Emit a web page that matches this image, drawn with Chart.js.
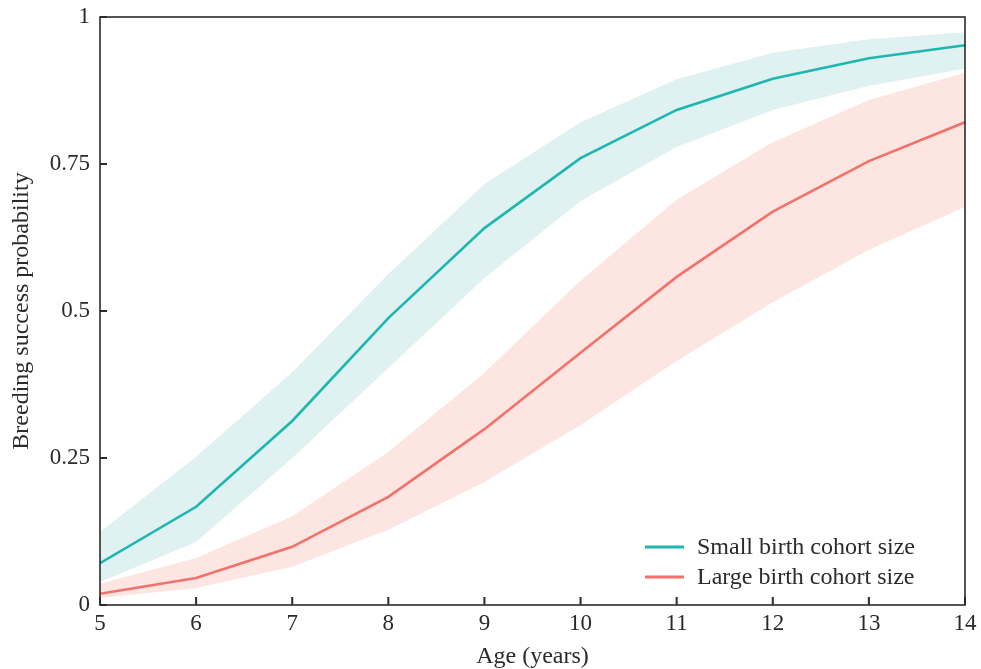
<!DOCTYPE html>
<html>
<head>
<meta charset="utf-8">
<script src="https://cdn.jsdelivr.net/npm/chart.js@4"></script>
<style>
  html, body { margin: 0; padding: 0; background: #fff; }
  #wrap { width: 981px; height: 669px; }
</style>
</head>
<body>
<div id="wrap"><canvas id="c" width="981" height="669"></canvas></div>
<script>
const ages = [5, 6, 7, 8, 9, 10, 11, 12, 13, 14];
const smallMean  = [0.071, 0.167, 0.313, 0.488, 0.641, 0.760, 0.842, 0.895, 0.930, 0.952];
const smallUpper = [0.124, 0.252, 0.396, 0.563, 0.716, 0.821, 0.894, 0.939, 0.962, 0.974];
const smallLower = [0.039, 0.107, 0.250, 0.403, 0.556, 0.687, 0.779, 0.842, 0.883, 0.912];
const largeMean  = [0.019, 0.046, 0.099, 0.184, 0.299, 0.429, 0.558, 0.669, 0.755, 0.821];
const largeUpper = [0.036, 0.080, 0.151, 0.260, 0.395, 0.552, 0.689, 0.787, 0.859, 0.905];
const largeLower = [0.012, 0.029, 0.065, 0.128, 0.209, 0.306, 0.415, 0.515, 0.604, 0.677];
const yTicks = [0, 0.25, 0.5, 0.75, 1];
const yTickLabels = ['0', '0.25', '0.5', '0.75', '1'];
const seriesLabels = ['Small birth cohort size', 'Large birth cohort size'];
const xTitle = 'Age (years)';
const yTitle = 'Breeding success probability';

const TEAL = '#1fb6af';
const RED = '#f2716a';
const TEAL_BAND = '#dff1f0';
const RED_BAND = '#fde6e2';
const FONT = "'Liberation Serif', 'Times New Roman', serif";
const INK = '#2b2b2b';

const pts = arr => arr.map((v, i) => ({ x: ages[i], y: v }));

const band = (data, color, fill) => ({
  data: pts(data), borderWidth: 0, pointRadius: 0, backgroundColor: color,
  borderColor: 'rgba(0,0,0,0)', fill: fill, tension: 0, order: 2
});

const framePlugin = {
  id: 'frame',
  afterDraw(chart) {
    const { ctx, chartArea: a, scales } = chart;
    ctx.save();
    ctx.strokeStyle = INK;
    ctx.lineWidth = 1.6;
    ctx.strokeRect(a.left, a.top, a.right - a.left, a.bottom - a.top);
    ctx.lineWidth = 2;
    ctx.beginPath();
    yTicks.forEach(v => {
      const y = scales.y.getPixelForValue(v);
      ctx.moveTo(a.left, y); ctx.lineTo(a.left + 7, y);
    });
    ages.forEach(v => {
      const x = scales.x.getPixelForValue(v);
      ctx.moveTo(x, a.bottom); ctx.lineTo(x, a.bottom - 8);
    });
    ctx.stroke();
    // legend
    const items = [
      { label: seriesLabels[0], color: TEAL, y: 547 },
      { label: seriesLabels[1], color: RED, y: 577 }
    ];
    ctx.font = '24px ' + FONT;
    ctx.textBaseline = 'middle';
    ctx.textAlign = 'left';
    items.forEach(it => {
      ctx.strokeStyle = it.color;
      ctx.lineWidth = 3;
      ctx.beginPath();
      ctx.moveTo(645, it.y); ctx.lineTo(684, it.y);
      ctx.stroke();
      ctx.fillStyle = INK;
      ctx.fillText(it.label, 697, it.y + 1);
    });
    ctx.restore();
  }
};

new Chart(document.getElementById('c'), {
  type: 'line',
  data: {
    datasets: [
      { label: seriesLabels[0], data: pts(smallMean), borderColor: TEAL, borderWidth: 2.6, pointRadius: 0, fill: false, tension: 0, order: 0 },
      { label: seriesLabels[1], data: pts(largeMean), borderColor: RED, borderWidth: 2.6, pointRadius: 0, fill: false, tension: 0, order: 0 },
      band(smallUpper, TEAL_BAND, '+1'),
      band(smallLower, TEAL_BAND, false),
      band(largeUpper, RED_BAND, '+1'),
      band(largeLower, RED_BAND, false)
    ]
  },
  options: {
    responsive: false,
    animation: false,
    devicePixelRatio: 1,
    layout: { padding: { top: 17, right: 16, left: 0, bottom: 0 } },
    plugins: { legend: { display: false }, tooltip: { enabled: false }, filler: { drawTime: 'beforeDatasetsDraw' } },
    scales: {
      x: {
        type: 'linear', min: 5, max: 14,
        afterFit: s => { s.height = 64; s.paddingLeft = 0; s.paddingRight = 0; },
        afterBuildTicks: s => { s.ticks = ages.map(v => ({ value: v })); },
        grid: { display: false, drawTicks: false },
        border: { display: false },
        ticks: { padding: 5, color: INK, font: { family: FONT, size: 23 }, callback: v => String(v) },
        title: { display: true, text: xTitle, color: INK, font: { family: FONT, size: 24 }, padding: { top: 0, bottom: -2 } }
      },
      y: {
        type: 'linear', min: 0, max: 1,
        afterFit: s => { s.width = 100; s.paddingTop = 0; s.paddingBottom = 0; },
        afterBuildTicks: s => { s.ticks = yTicks.map(v => ({ value: v })); },
        grid: { display: false, drawTicks: false },
        border: { display: false },
        ticks: { padding: 10, color: INK, font: { family: FONT, size: 23 },
          callback: v => yTickLabels[yTicks.indexOf(v)] },
        title: { display: true, text: yTitle, color: INK, font: { family: FONT, size: 24 }, padding: { top: 7, bottom: 0 } }
      }
    }
  },
  plugins: [framePlugin]
});
</script>
</body>
</html>
